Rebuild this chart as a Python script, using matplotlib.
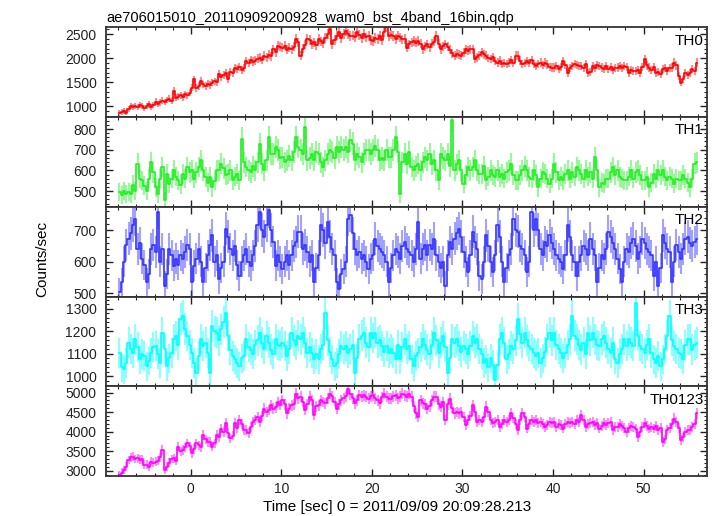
import numpy as np
import matplotlib
matplotlib.use("Agg")
import matplotlib.pyplot as plt
from matplotlib.ticker import MultipleLocator

plt.rcParams['font.family'] = ['Liberation Sans', 'DejaVu Sans']

# light curve, 0.25 s bins from -8 s to 56 s (4 bins per row = 1 s)
t_start = -8.0
bin_width = 0.25

th0 = [
    860, 880, 900, 870,   950, 1000, 990, 1010,   980, 1020, 1000, 960,
    1010, 1040, 990, 1030,   1100, 1050, 1080, 1120,   1090, 1130, 1160, 1120,
    1320, 1180, 1200, 1230,   1190, 1250, 1230, 1280,   1390, 1560, 1380, 1420,
    1530, 1460, 1420, 1470,   1440, 1490, 1520, 1500,   1670, 1600, 1650, 1700,
    1560, 1720, 1690, 1800,   1780, 1820, 1760, 1800,   1940, 1900, 1960, 1930,
    1950, 1990, 2010, 1960,   2050, 2020, 2070, 2040,   2190, 2120, 2260, 2240,
    2220, 2260, 2180, 2220,   2190, 2240, 2400, 2330,   2050, 2200, 2280, 2400,
    2380, 2290, 2330, 2270,   2400, 2350, 2310, 2420,   2500, 2600, 2290, 2380,
    2470, 2535, 2420, 2500,   2570, 2500, 2460, 2470,   2440, 2535, 2480, 2420,
    2500, 2430, 2460, 2380,   2360, 2420, 2400, 2460,   2380, 2535, 2640, 2450,
    2490, 2465, 2400, 2470,   2430, 2390, 2400, 2220,   2290, 2330, 2360, 2320,
    2360, 2300, 2190, 2250,   2290, 2230, 2300, 2340,   2465, 2300, 2190, 2250,
    2290, 2240, 2180, 2100,   2050, 2090, 2070, 2050,   2110, 2190, 2150, 2190,
    2190, 1980, 2020, 2060,   2120, 2080, 2050, 2000,   1980, 2020, 1940, 1910,
    1950, 1880, 1900, 1875,   1910, 1960, 1900, 2050,   2050, 1950, 1875, 1900,
    1945, 1900, 1960, 1880,   1840, 1880, 1910, 1860,   1910, 1870, 1810, 1805,
    1805, 1840, 1780, 1820,   1945, 1860, 1700, 1800,   1830, 1875, 1860, 1840,
    1840, 1800, 1880, 1700,   1720, 1840, 1800, 1860,   1840, 1805, 1780, 1830,
    1770, 1810, 1750, 1790,   1805, 1840, 1800, 1840,   1810, 1700, 1760, 1740,
    1735, 1760, 1700, 1820,   1980, 1850, 1805, 1760,   1820, 1700, 1720, 1680,
    1770, 1800, 1740, 1790,   1805, 1910, 1850, 1630,   1490, 1560, 1700, 1650,
    1700, 1770, 1740, 1910,
]

th1 = [
    495, 480, 500, 487,   495, 487, 530, 500,   632, 560, 552, 527,
    500, 560, 640, 590,   519, 487, 560, 616,   455, 584, 535, 560,
    600, 570, 552, 530,   584, 560, 616, 590,   600, 560, 590, 616,
    648, 600, 568, 540,   568, 519, 550, 600,   600, 632, 610, 580,
    584, 600, 552, 570,   584, 552, 753, 640,   616, 600, 590, 620,
    600, 640, 729, 632,   600, 650, 761, 680,   680, 713, 697, 660,
    664, 640, 648, 670,   648, 690, 761, 713,   700, 680, 810, 648,
    660, 680, 650, 690,   680, 640, 616, 650,   680, 700, 690, 660,
    713, 690, 713, 700,   713, 690, 745, 730,   648, 680, 664, 640,
    680, 700, 697, 680,   697, 720, 697, 648,   660, 648, 700, 664,
    664, 700, 761, 690,   487, 640, 680, 632,   690, 616, 600, 620,
    632, 600, 640, 664,   648, 680, 630, 648,   600, 552, 680, 660,
    648, 680, 620, 842,   600, 630, 648, 600,   535, 580, 616, 600,
    616, 648, 600, 584,   584, 620, 552, 570,   600, 580, 568, 600,
    568, 584, 560, 590,   600, 632, 580, 552,   552, 580, 600, 620,
    600, 568, 560, 600,   580, 519, 560, 590,   584, 560, 535, 560,
    632, 590, 552, 570,   552, 584, 600, 560,   590, 570, 616, 600,
    584, 560, 600, 570,   590, 560, 664, 600,   519, 540, 535, 560,
    560, 590, 616, 580,   600, 568, 560, 552,   552, 570, 600, 560,
    590, 600, 580, 552,   552, 570, 519, 540,   584, 560, 600, 580,
    600, 570, 552, 570,   560, 535, 560, 552,   552, 580, 560, 540,
    519, 560, 632, 640,
]

th2 = [
    503, 535, 600, 652,   673, 690, 716, 737,   641, 660, 610, 590,
    535, 560, 641, 652,   630, 758, 600, 640,   524, 560, 641, 620,
    588, 610, 590, 620,   610, 630, 652, 640,   535, 588, 610, 641,
    600, 535, 580, 620,   652, 684, 600, 620,   546, 580, 600, 705,
    680, 640, 620, 650,   590, 556, 600, 620,   641, 600, 588, 620,
    650, 716, 758, 700,   680, 716, 763, 700,   663, 588, 620, 600,
    578, 600, 620, 590,   620, 650, 663, 695,   695, 641, 652, 630,
    600, 620, 535, 580,   620, 716, 700, 660,   726, 680, 641, 620,
    535, 514, 560, 578,   600, 737, 748, 690,   641, 620, 630, 610,
    620, 600, 578, 610,   620, 673, 650, 641,   630, 620, 600, 535,
    580, 620, 641, 630,   610, 650, 663, 641,   630, 620, 600, 640,
    726, 610, 640, 652,   620, 652, 640, 673,   620, 600, 580, 600,
    524, 620, 663, 640,   673, 690, 705, 680,   630, 600, 567, 620,
    695, 663, 640, 556,   546, 600, 684, 650,   600, 567, 620, 716,
    680, 600, 535, 580,   620, 640, 737, 700,   695, 650, 641, 620,
    567, 600, 758, 700,   737, 700, 641, 620,   663, 650, 684, 660,
    641, 620, 610, 600,   578, 620, 716, 680,   620, 600, 556, 600,
    620, 650, 641, 620,   673, 640, 620, 535,   580, 620, 610, 640,
    695, 680, 660, 640,   610, 578, 535, 600,   641, 630, 660, 673,
    650, 610, 630, 673,   660, 641, 630, 620,   556, 600, 524, 580,
    684, 660, 641, 630,   535, 600, 652, 630,   610, 640, 673, 680,
    660, 650, 663, 673,
]

th3 = [
    1105, 1040, 1031, 1060,   1149, 1120, 1105, 1164,   1130, 1075, 1100, 1090,
    1045, 1070, 1105, 1130,   1134, 1100, 1060, 1193,   1120, 1045, 1080, 1105,
    1164, 1179, 1140, 1253,   1267, 1210, 1179, 1140,   1105, 1060, 1016, 1090,
    1164, 1134, 1150, 1105,   1016, 1223, 1200, 1193,   1160, 1208, 1240, 1282,
    1180, 1119, 1090, 1075,   1060, 1045, 1080, 1090,   1164, 1130, 1119, 1100,
    1140, 1160, 1193, 1149,   1120, 1179, 1150, 1119,   1100, 1164, 1140, 1134,
    1150, 1134, 1090, 1120,   1193, 1160, 1140, 1180,   1164, 1193, 1150, 1105,
    1130, 1105, 1075, 1100,   1075, 1120, 1140, 1282,   1160, 1110, 1075, 1045,
    1060, 1100, 1134, 1120,   1134, 1105, 1120, 1140,   1016, 1080, 1164, 1180,
    1193, 1150, 1130, 1193,   1170, 1193, 1149, 1160,   1134, 1110, 1134, 1105,
    1120, 1105, 1075, 1140,   1075, 1130, 1164, 1120,   1134, 1075, 1045, 1090,
    1105, 1130, 1164, 1140,   1119, 1100, 1140, 1193,   1160, 1105, 1150, 1179,
    1130, 1016, 1080, 1164,   1150, 1164, 1134, 1110,   1134, 1120, 1100, 1134,
    1179, 1150, 1164, 1120,   1100, 1060, 1075, 1040,   1080, 1050, 986, 1050,
    1164, 1193, 1150, 1075,   1100, 1134, 1120, 1160,   1253, 1190, 1150, 1193,
    1160, 1134, 1120, 1105,   1090, 1105, 1060, 1080,   1110, 1164, 1193, 1160,
    1193, 1140, 1120, 1105,   1080, 1105, 1140, 1164,   1267, 1180, 1164, 1140,
    1119, 1150, 1100, 1193,   1160, 1193, 1164, 1140,   1134, 1164, 1179, 1150,
    1120, 1105, 1150, 1075,   1060, 1100, 1120, 1164,   1134, 1164, 1149, 1134,
    1327, 1180, 1134, 1120,   1105, 1140, 1164, 1105,   1075, 1060, 1090, 1045,
    1075, 1120, 1180, 1267,   1160, 1134, 1120, 1105,   1100, 1075, 1140, 1164,
    1164, 1119, 1140, 1150,
]

th0123 = [
    2890, 2950, 3020, 3100,   3275, 3340, 3360, 3300,   3320, 3280, 3290, 3150,
    3150, 3100, 3230, 3200,   3230, 3250, 3350, 3530,   3020, 3100, 3200, 3300,
    3320, 3250, 3615, 3500,   3530, 3600, 3700, 3620,   3445, 3560, 3700, 3650,
    3600, 3910, 3800, 3740,   3740, 3615, 3700, 3910,   3850, 4080, 4000, 4210,
    3955, 3825, 3900, 4210,   4100, 4295, 4200, 4040,   4040, 3955, 4120, 4250,
    4300, 4380, 4250, 4400,   4590, 4505, 4550, 4675,   4590, 4620, 4760, 4680,
    4800, 4700, 4465, 4590,   4675, 4700, 4975, 4850,   4890, 4760, 4550, 4700,
    4890, 4800, 4420, 4650,   4675, 4800, 4760, 4720,   4850, 4975, 4900, 4760,
    4590, 4700, 4800, 4850,   4900, 5100, 4950, 4850,   4720, 4800, 4930, 4890,
    4930, 4890, 4845, 4900,   4930, 4850, 4800, 4720,   4880, 4975, 4890, 4845,
    4845, 4900, 4930, 4850,   4890, 4975, 4930, 4890,   4975, 4890, 4650, 4465,
    4380, 4800, 4720, 4700,   4590, 4650, 4800, 4890,   4890, 4700, 4635, 4760,
    4295, 4700, 4845, 4600,   4465, 4505, 4465, 4505,   4380, 4165, 4300, 4400,
    4675, 4500, 4250, 4295,   4250, 4380, 4635, 4500,   4295, 4210, 4250, 4300,
    4125, 4200, 4295, 4250,   4300, 4465, 4350, 4200,   4040, 4300, 4465, 4380,
    4080, 4200, 4295, 4250,   4300, 4210, 4250, 4200,   4125, 4180, 4250, 4210,
    4250, 4125, 4200, 4160,   4080, 4200, 4250, 4210,   4250, 4200, 4300, 4250,
    4420, 4300, 4125, 4200,   4210, 4250, 4180, 4210,   4080, 4150, 4210, 4180,
    4210, 4250, 4040, 4120,   4125, 4200, 4150, 4100,   4000, 4100, 4150, 4125,
    4080, 3870, 4000, 4125,   4210, 4150, 4080, 4125,   4080, 4150, 4040, 4100,
    3740, 3800, 4040, 4100,   4200, 4335, 4250, 4100,   3785, 3850, 4000, 4040,
    4040, 4125, 4200, 4465,
]

bands = ["TH0", "TH1", "TH2", "TH3", "TH0123"]
series = [th0, th1, th2, th3, th0123]
colors = ["#ff0000", "#22ee22", "#3333ff", "#00ffff", "#ff00ff"]
ylims = [(777, 2640), (424, 858), (490, 774), (956, 1354), (2865, 5160)]
ymajor = [500, 100, 100, 100, 500]
yminor = [100, 20, 20, 20, 100]

fig = plt.figure(figsize=(7.17, 5.16), dpi=100)
gs = fig.add_gridspec(5, 1, left=0.148, right=0.986, top=0.947, bottom=0.0775, hspace=0)

for k, (name, rate) in enumerate(zip(bands, series)):
    ax = fig.add_subplot(gs[k])
    rate = np.array(rate, dtype=float)
    t = t_start + bin_width * (np.arange(len(rate)) + 0.5)
    err = np.sqrt(rate / bin_width)
    ax.vlines(t, rate - err, rate + err, color=colors[k], lw=1.5, alpha=0.45)
    ax.step(t, rate, where='mid', color=colors[k], lw=1.2)
    ax.set_xlim(-9.35, 57.0)
    ax.set_ylim(*ylims[k])
    ax.xaxis.set_major_locator(MultipleLocator(10))
    ax.xaxis.set_minor_locator(MultipleLocator(2))
    ax.yaxis.set_major_locator(MultipleLocator(ymajor[k]))
    ax.yaxis.set_minor_locator(MultipleLocator(yminor[k]))
    ax.tick_params(which='both', direction='in', top=True, right=True, labelsize=10, colors='#222222')
    ax.tick_params(which='major', length=5, width=1)
    ax.tick_params(which='minor', length=2.5, width=0.8)
    ax.tick_params(axis='y', pad=7)
    ax.tick_params(axis='x', pad=4)
    for s in ax.spines.values():
        s.set_linewidth(1.3)
        s.set_color('#333333')
    if k < 4:
        ax.tick_params(labelbottom=False)
    ax.text(0.995, 0.93, name, transform=ax.transAxes, ha='right', va='top', fontsize=11)
    if k == 0:
        ax.set_title("ae706015010_20110909200928_wam0_bst_4band_16bin.qdp", loc='left', fontsize=10.5, pad=4)

fig.text(397 / 717, 1 - 507 / 516, "Time [sec] 0 = 2011/09/09 20:09:28.213", ha='center', va='center', fontsize=11)
fig.text(42 / 717, 1 - 259 / 516, "Counts/sec", rotation=90, ha='center', va='center', fontsize=11)

fig.savefig("out.png", dpi=100)
